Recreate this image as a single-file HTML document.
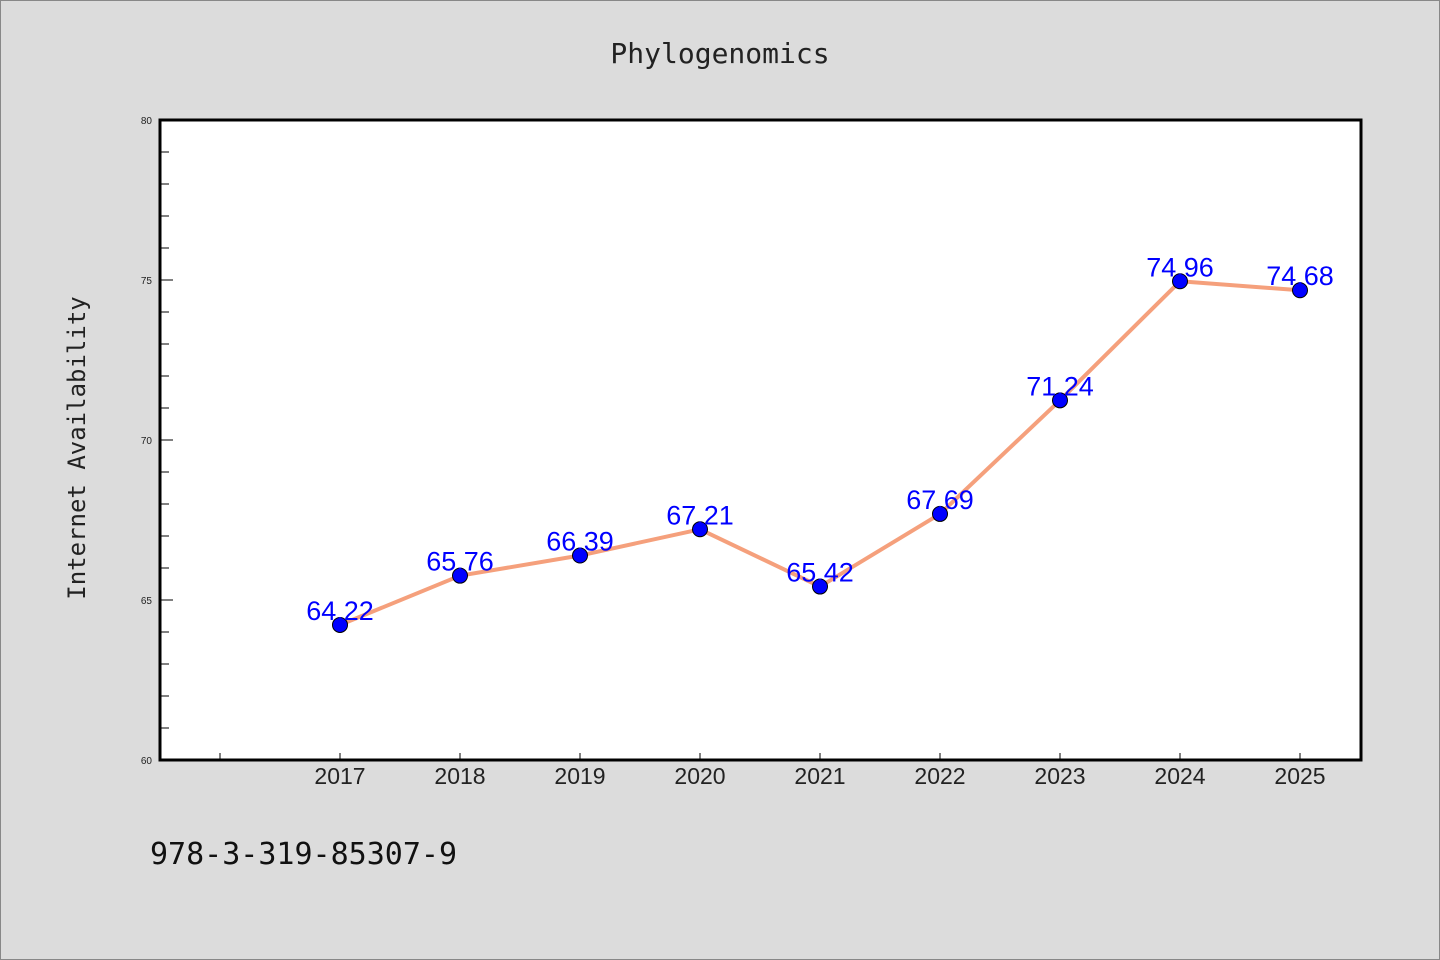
<!DOCTYPE html>
<html><head><meta charset="utf-8"><style>
html,body{margin:0;padding:0;background:#dcdcdc;}
svg{display:block;font-family:"Liberation Sans","DejaVu Sans",sans-serif;}
</style></head><body>
<svg id="chart" width="1440" height="960" viewBox="0 0 1440 960">
<rect x="0.5" y="0.5" width="1439" height="959" fill="#dcdcdc" stroke="#888"/>
<text x="720" y="63" text-anchor="middle" font-size="28" fill="#222" font-family="DejaVu Sans Mono, monospace">Phylogenomics</text>
<rect x="160" y="120" width="1201" height="640" fill="#fff"/>
<g id="ticks"></g>
<g id="series"></g>
<rect x="160" y="120" width="1201" height="640" fill="none" stroke="#000" stroke-width="3"/>
<text transform="translate(85,448) rotate(-90)" text-anchor="middle" font-size="24" fill="#222" font-family="DejaVu Sans Mono, monospace">Internet Availability</text>
<text x="150" y="864" font-size="30" fill="#111" font-family="DejaVu Sans Mono, monospace">978-3-319-85307-9</text>
</svg>
<script>
const years = [2017,2018,2019,2020,2021,2022,2023,2024,2025];
const values = [64.22,65.76,66.39,67.21,65.42,67.69,71.24,74.96,74.68];
const labels = ["64.22","65.76","66.39","67.21","65.42","67.69","71.24","74.96","74.68"];
const yTickLabels = ["60","65","70","75","80"];
const yTickValues = [60,65,70,75,80];

const NS="http://www.w3.org/2000/svg";
const x = v => 340 + (v-2017)*120;
const y = v => 760 - (v-60)*32;
function mk(tag, attrs, parent){const e=document.createElementNS(NS,tag);for(const k in attrs)e.setAttribute(k,attrs[k]);parent.appendChild(e);return e;}
const tg=document.getElementById('ticks'), sg=document.getElementById('series');
for(let v=61; v<80; v++){
  if(v%5===0) continue;
  const t=mk('line',{x1:160,x2:169,y1:y(v),y2:y(v),stroke:'#000','stroke-width':1},tg);
  
  
}
yTickValues.forEach((v,i)=>{
  const t=mk('line',{x1:160,x2:173,y1:y(v),y2:y(v),stroke:'#000','stroke-width':1},tg);
  
  
  const l=mk('text',{x:152,y:y(v)+4,'text-anchor':'end','font-size':10,fill:'#222'},tg);
  l.textContent=yTickLabels[i];
  
  
});
[2016].concat(years).forEach(yr=>{
  const t=mk('line',{x1:x(yr),x2:x(yr),y1:760,y2:753,stroke:'#000','stroke-width':1},tg);
  
  
});
years.forEach(yr=>{
  const l=mk('text',{x:x(yr),y:784,'text-anchor':'middle','font-size':23,fill:'#222'},tg);
  l.textContent=String(yr);
  
  
});
const pts=years.map((yr,i)=>x(yr)+','+y(values[i])).join(' ');
const line=mk('polyline',{points:pts,fill:'none',stroke:'#f5a07c','stroke-width':4,'stroke-linejoin':'round'},sg);


years.forEach((yr,i)=>{
  const c=mk('circle',{cx:x(yr),cy:y(values[i]),r:7.5,fill:'#0000ff',stroke:'#000','stroke-width':1},sg);
  
  
  const t=mk('text',{x:x(yr),y:y(values[i])-5,'text-anchor':'middle','font-size':27,fill:'#0000ff'},sg);
  t.textContent=labels[i];
  
  
});
</script>
</body></html>
